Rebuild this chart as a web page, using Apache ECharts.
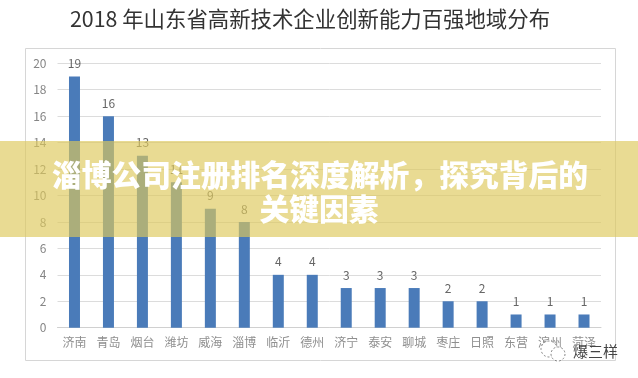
<!DOCTYPE html>
<html>
<head>
<meta charset="utf-8">
<style>html,body{margin:0;padding:0;background:#fff}#c{width:638px;height:378px}</style>
<script src="https://cdn.jsdelivr.net/npm/echarts@6/dist/echarts.min.js"></script>
</head>
<body>
<div id="c"></div>
<script>
const categories = ['济南','青岛','烟台','潍坊','威海','淄博','临沂','德州','济宁','泰安','聊城','枣庄','日照','东营','滨州','菏泽'];
const values = [19,16,13,11,9,8,4,4,3,3,3,2,2,1,1,1];
const yTicks = {min:0,max:20,interval:2};
const chartTitle = '2018 年山东省高新技术企业创新能力百强地域分布';
const overlayLines = ['淄博公司注册排名深度解析，探究背后的','关键因素'];
const watermark = '爆三样';
const font = '"Noto Sans CJK SC","Noto Sans",sans-serif';

const chart = echarts.init(document.getElementById('c'), null, {renderer:'canvas'});
chart.setOption({
  animation:false,
  backgroundColor:'#fff',
  title:{text:chartTitle,left:305,top:3,textAlign:'center',
    textStyle:{fontFamily:font,fontSize:21.4,fontWeight:'normal',color:'#333'}},
  grid:{left:57.5,right:37,top:63.3,bottom:50.3,containLabel:false},
  xAxis:{type:'category',data:categories,
    axisTick:{show:false},
    axisLine:{lineStyle:{color:'#d0d0d0',width:1}},
    axisLabel:{fontFamily:font,fontSize:12,color:'#8f8f8f',margin:9,interval:0}},
  yAxis:{type:'value',min:yTicks.min,max:yTicks.max,interval:yTicks.interval,
    axisLine:{show:false},axisTick:{show:false},
    axisLabel:{fontFamily:font,fontSize:12,color:'#858585',margin:11},
    splitLine:{lineStyle:{color:'#dcdcdc',width:1}}},
  series:[{type:'bar',data:values,barWidth:11,
    itemStyle:{color:'#4a7bb9'},
    label:{show:true,position:'top',distance:7,fontFamily:font,fontSize:12,color:'#666'}}],
  graphic:{elements:[
    {type:'rect',z:1,silent:true,shape:{x:25.5,y:48.5,width:590,height:312},
      style:{fill:'none',stroke:'#d6d6d6',lineWidth:1}},
    {type:'rect',z:100,silent:true,shape:{x:0,y:141,width:638,height:96},
      style:{fill:'rgba(222,200,91,0.66)'}},
    {type:'text',z:101,silent:true,x:320,y:175,
      style:{text:overlayLines[0],fill:'#fff',font:'900 29.8px '+font,align:'center',verticalAlign:'middle',
        shadowBlur:2,shadowColor:'rgba(150,130,50,0.2)'}},
    {type:'text',z:101,silent:true,x:319,y:209,
      style:{text:overlayLines[1],fill:'#fff',font:'900 29.8px '+font,align:'center',verticalAlign:'middle',
        shadowBlur:2,shadowColor:'rgba(150,130,50,0.2)'}},
    {type:'circle',z:102,silent:true,shape:{cx:549,cy:349,r:8},
      style:{fill:'#fff',stroke:'#666',lineWidth:0.8,lineDash:[2,2]}},
    {type:'circle',z:103,silent:true,shape:{cx:558,cy:354,r:7},
      style:{fill:'#fff',stroke:'#666',lineWidth:0.8,lineDash:[2,2]}},
    {type:'text',z:102,silent:true,x:573,y:351,
      style:{text:watermark,fill:'#444',font:'normal 15px '+font,align:'left',verticalAlign:'middle'}}
  ]}
});
</script>
</body>
</html>
